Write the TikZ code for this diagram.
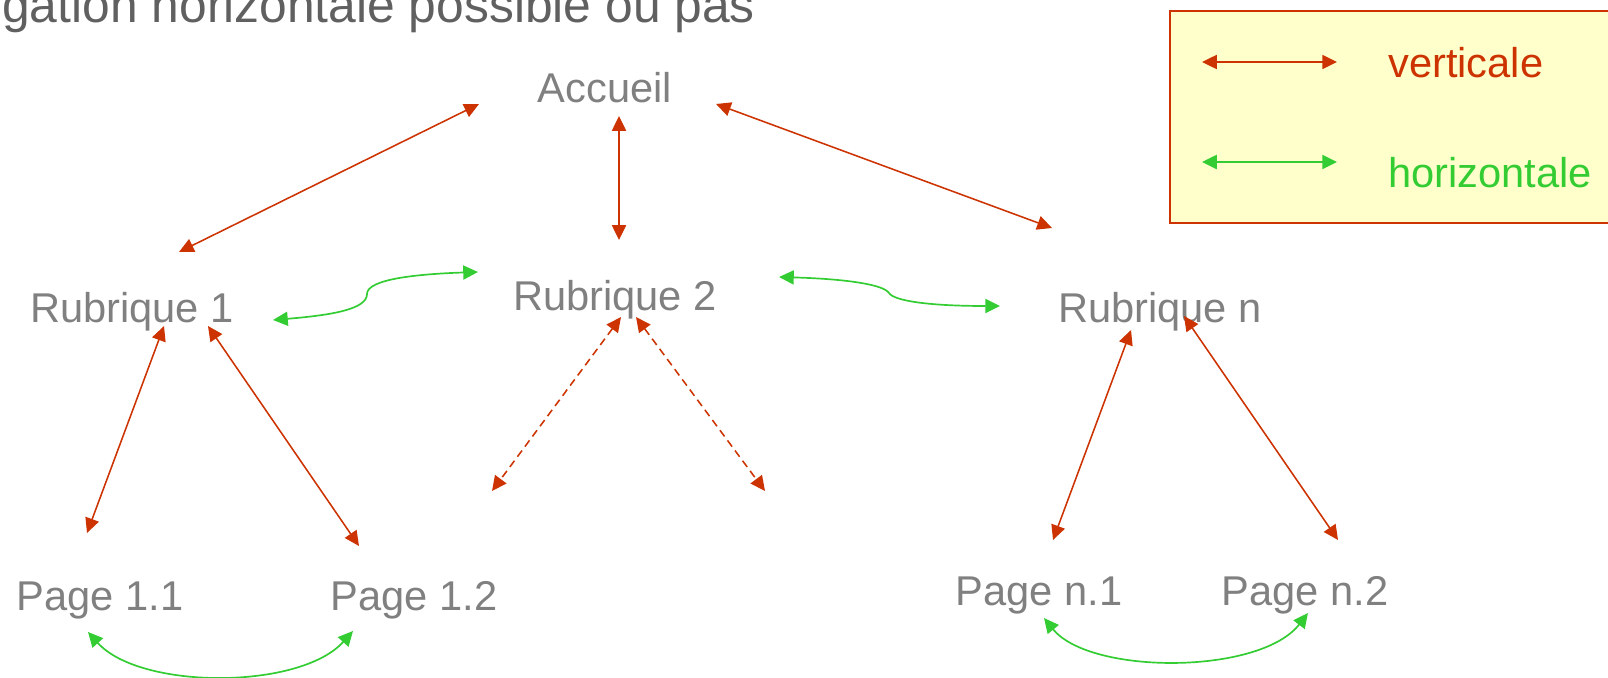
\documentclass[tikz,border=0pt]{standalone}
\usepackage{fontspec}
\setmainfont{Liberation Sans}
\usepackage{xcolor}
\usetikzlibrary{arrows.meta,calc,positioning}
\definecolor{vertred}{RGB}{204,51,0}
\definecolor{horizgreen}{RGB}{51,204,51}
\definecolor{lblgray}{RGB}{128,128,128}
\definecolor{titlegray}{RGB}{96,96,96}
\definecolor{legendfill}{RGB}{255,255,204}

\begin{document}
\begin{tikzpicture}[x=0.025cm,y=-0.025cm,
    lbl/.style={anchor=base,inner sep=0pt,text=lblgray,font=\fontsize{29.6}{36}\selectfont},
    vnav/.style={vertred,line width=1.1pt,{Triangle[length=10.5pt,width=10pt]}-{Triangle[length=10.5pt,width=10pt]}},
    hnav/.style={horizgreen,line width=1.2pt,{Triangle[length=10.5pt,width=10pt]}-{Triangle[length=10.5pt,width=10pt]}}]
    \useasboundingbox (0,0) rectangle (1608,677);

    % Title (cut at the top)
    \node[anchor=base west,inner sep=0pt,text=titlegray,font=\fontsize{35.4}{42}\selectfont] (title) at (2,22.5) {gation horizontale possible ou pas};

    % Legend
    \draw[vertred,line width=1.4pt,fill=legendfill] (1170,11) rectangle (1625,223);
    \coordinate (lv1) at (1202,62);
    \coordinate (lv2) at (1337,62);
    \coordinate (lh1) at (1202,162);
    \coordinate (lh2) at (1337,162);
    \draw[vnav] (lv1) -- (lv2);
    \draw[hnav] (lh1) -- (lh2);
    \node[lbl,anchor=base west,text=vertred] (legv) at (1388,77) {verticale};
    \node[lbl,anchor=base west,text=horizgreen] (legh) at (1388,187) {horizontale};

    % Pages
    \node[lbl] (acc) at (605,102) {Accueil};
    \node[lbl] (rub1) at (132,322) {Rubrique 1};
    \node[lbl] (rub2) at (615,310) {Rubrique 2};
    \node[lbl] (rubn) at (1160,322) {Rubrique n};
    \node[lbl] (p11) at (100,610) {Page 1.1};
    \node[lbl] (p12) at (414,610) {Page 1.2};
    \node[lbl] (pn1) at (1039,605) {Page n.1};
    \node[lbl] (pn2) at (1305,605) {Page n.2};

    % Vertical navigation
    \draw[vnav] ($(acc.base)+(-126,2)$) -- ($(rub1.base)+(47,-70)$);
    \draw[vnav] ($(acc.base)+(14,14)$) -- ($(rub2.base)+(4,-70)$);
    \draw[vnav] ($(acc.base)+(111,2)$) -- ($(rubn.base)+(-108,-94)$);
    \draw[vnav] ($(rub1.base)+(32,4)$) -- ($(p11.base)+(-13,-77)$);
    \draw[vnav] ($(rub1.base)+(76,4)$) -- ($(p12.base)+(-55,-64)$);
    \draw[vnav,dash pattern=on 5.5pt off 3.5pt] ($(rub2.base)+(6,7)$) -- ($(rub2.base)+(-123,181)$);
    \draw[vnav,dash pattern=on 5.5pt off 3.5pt] ($(rub2.base)+(21,7)$) -- ($(rub2.base)+(150,181)$);
    \draw[vnav] ($(rubn.base)+(-29,8)$) -- ($(pn1.base)+(14,-65)$);
    \draw[vnav] ($(rubn.base)+(24,-6)$) -- ($(pn2.base)+(33,-65)$);

    % Horizontal navigation
    \draw[hnav] ($(rub1.base)+(141,-2)$) .. controls +(60,-5) and +(0,15) .. (367,294)
        .. controls +(0,-15) and +(-60,2) .. ($(rub2.base)+(-137,-38)$);
    \draw[hnav] ($(rub2.base)+(164,-33)$) .. controls +(70,2) and +(-5,-8) .. (889,293)
        .. controls +(5,8) and +(-70,0) .. ($(rubn.base)+(-160,-16)$);
    \draw[hnav] ($(p11.base)+(-12,22)$) .. controls +(52,58) and +(-53,59) .. ($(p12.base)+(-61,21)$);
    \draw[hnav] ($(pn1.base)+(5,13)$) .. controls +(46,57) and +(-48,62) .. ($(pn2.base)+(3,8)$);
\end{tikzpicture}
\end{document}
